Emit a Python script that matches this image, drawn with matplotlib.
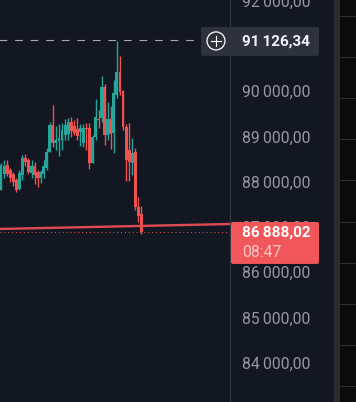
import numpy as np
import matplotlib
matplotlib.use('Agg')
import matplotlib.pyplot as plt
from matplotlib.patches import FancyBboxPatch, Rectangle, Circle

# candles, left to right
opens = [87814, 88167, 88366, 88256, 88167, 88035, 87836, 88145, 88521, 88476, 88189, 88344, 88211, 88079, 88167, 88300,
         88653, 89249, 88852, 88896, 88918, 89028, 89051, 89316, 89227, 89161, 89095, 88852, 89183, 89183, 88410, 88984,
         89382, 89404, 90088, 89028, 89382, 89073, 89912, 90420, 90000, 89205, 88697, 88410, 88653, 87439, 87284]
closes = [88366, 88344, 88167, 88079, 87991, 87814, 88189, 88521, 88432, 88211, 88344, 88145, 88079, 88211, 88344, 88653,
          89249, 88852, 88918, 88962, 89139, 89249, 89316, 89117, 89073, 89006, 89183, 89183, 89161, 88410, 88984, 89426,
          89360, 90088, 89028, 89382, 89051, 89956, 90420, 89978, 89205, 88476, 88432, 88631, 87439, 87240, 86888]
highs = [88410, 88476, 88476, 88300, 88211, 88079, 88256, 88587, 88609, 88521, 88476, 88432, 88256, 88256, 88476, 88741,
         89316, 89691, 89227, 89271, 89293, 89380, 89404, 89426, 89360, 89404, 89271, 89271, 89293, 89293, 89020, 89823,
         89580, 90331, 90155, 89757, 89669, 90243, 91104, 90773, 90022, 89271, 89293, 88962, 88741, 87660, 87461]
lows = [87814, 88079, 88123, 87991, 87902, 87770, 87814, 88035, 88344, 88167, 88079, 87947, 87880, 87969, 88079, 88256,
        88653, 88764, 88697, 88565, 88697, 88918, 88918, 88984, 89028, 88918, 88786, 88764, 88697, 88278, 88410, 88918,
        89180, 89316, 88808, 88918, 88720, 88631, 89845, 89912, 89139, 88013, 88013, 88145, 87372, 87107, 86850]

price_ticks = [84000, 85000, 86000, 87000, 88000, 89000, 90000, 91000, 92000]
trend_x = [-1, 75]
trend_y = [86953, 87063]
last_price = 86888
high_price = 91126.34

bg = '#131722'
teal = '#26a69a'
red = '#ef5350'

plt.rcParams['font.family'] = ['Roboto', 'DejaVu Sans']

fig = plt.figure(figsize=(3.56, 4.021), dpi=100, facecolor=bg)
ax = fig.add_axes([0, 0, 230 / 356, 1], facecolor=bg)

x = np.arange(len(opens))
o = np.array(opens)
c = np.array(closes)
cols = [teal if b >= a else red for a, b in zip(o, c)]

ax.vlines(x, lows, highs, colors=cols, linewidth=1.0, zorder=2)
ax.bar(x, np.abs(c - o), bottom=np.minimum(o, c), width=0.95, color=cols, linewidth=0, zorder=3)

ax.plot(trend_x, trend_y, color='#e04a55', linewidth=1.7, zorder=4)
ax.axhline(last_price, color=red, linewidth=0.7, dashes=(1, 3), zorder=1)
ax.plot([-1, 66], [high_price, high_price], color='#a5a8b0', linewidth=0.8, dashes=(7, 7), zorder=1)

ax.set_xlim(-0.33, 75.08)
ax.set_ylim(83135, 92009)
ax.set_xticks([])
ax.yaxis.tick_right()
ax.set_yticks(price_ticks)
ax.set_yticklabels([f'{p // 1000}\u2009000,00' for p in price_ticks])
ax.tick_params(axis='y', length=0, pad=9, labelsize=11.3, labelcolor='#9598a1')
for name in ['top', 'left', 'bottom']:
    ax.spines[name].set_visible(False)
ax.spines['right'].set_color('#363a45')
ax.spines['right'].set_linewidth(0.8)

# labels and the window edge, in pixels
top = fig.add_axes([0, 0, 1, 1], facecolor='none')
top.set_xlim(0, 356)
top.set_ylim(402, 0)
top.axis('off')

top.add_patch(FancyBboxPatch((201, 27), 118, 29, boxstyle='round,pad=0,rounding_size=2',
                             facecolor='#2e323d', edgecolor='none'))
top.add_patch(Circle((216, 41), 9, facecolor='none', edgecolor='white', linewidth=0.9))
top.plot([211, 221], [41, 41], color='white', linewidth=0.8)
top.plot([216, 216], [36, 46], color='white', linewidth=0.8)
top.text(242, 41.5, '91\u2009126,34', color='#f0f3fa', fontsize=11, fontweight='bold', va='center')

top.add_patch(FancyBboxPatch((231, 222), 88, 42, boxstyle='round,pad=0,rounding_size=2',
                             facecolor='#f0565a', edgecolor='none'))
top.text(242, 233, '86\u2009888,02', color='white', fontsize=11, fontweight='bold', va='center')
top.text(242, 252, '08:47', color='#fbc7c7', fontsize=11.3, va='center')

top.add_patch(Rectangle((334, 0), 6, 402, facecolor='#2a2c31', edgecolor='none'))
top.add_patch(Rectangle((340, 0), 16, 402, facecolor='#0b0b0c', edgecolor='none'))
top.hlines([16, 57, 98, 139, 180, 222, 263, 304, 345, 386], 340, 356, color='#2e2e30', linewidth=0.8)

fig.savefig('out.png', dpi=100, facecolor=bg)
